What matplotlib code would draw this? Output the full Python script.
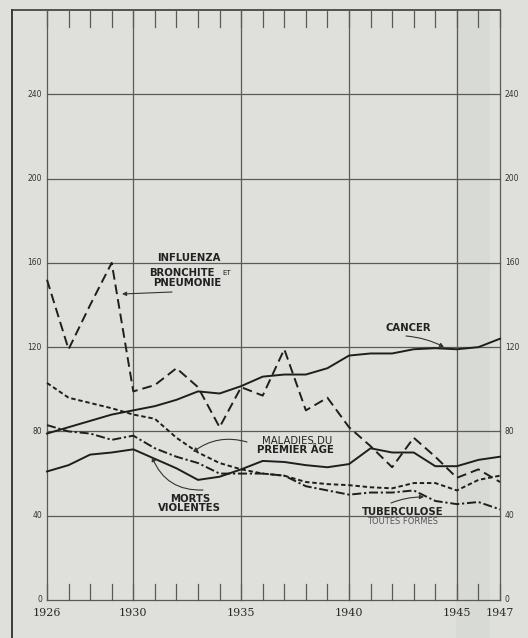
import matplotlib
matplotlib.use("Agg")
import matplotlib.pyplot as plt

plt.rcParams['lines.scale_dashes'] = False

years = list(range(1926, 1948))
influenza = [152, 119, 140, 160, 99, 102, 110, 101, 82, 101, 97, 119, 90, 96, 82, 73, 63, 77, 68, 58, 62, 56]
cancer = [79, 82, 85, 88, 90, 92, 95, 99, 98, 101.5, 106, 107, 107, 110, 116, 117, 117, 119, 119.5, 119, 120, 124]
maladies = [103, 96, 93.5, 91, 88, 86, 77, 70, 65, 62, 60, 59, 56, 55, 54.5, 53.5, 53, 55.5, 55.5, 52, 57, 59]
tuberculose = [83, 80, 79, 76, 78, 72, 68, 65, 60, 60, 60, 59, 54, 52, 50, 51, 51, 52, 47, 45.5, 46.5, 43]
morts = [61, 64, 69, 70, 71.5, 67, 62.5, 57, 58.5, 62, 66, 65.5, 64, 63, 64.5, 72, 70, 70, 63.5, 63.5, 66.5, 68]

y_ticks = [0, 40, 80, 120, 160, 200, 240]
x_labels = [1926, 1930, 1935, 1940, 1945, 1947]

W, H = 528, 638
BG = '#dfe0db'
INK = '#1e1e1e'
GRID = '#5a5a5a'

fig = plt.figure(figsize=(W / 100, H / 100), dpi=100, facecolor=BG)

# axes: 1926 -> px 47, 1947 -> px 500 ; y 0 -> px 600, 280 -> px 10
x0, x1 = 47, 500
yb, yt = 600, 10
ax = fig.add_axes([x0 / W, (H - yb) / H, (x1 - x0) / W, (yb - yt) / H])
ax.set_xlim(1926, 1947)
ax.set_ylim(0, 280)
ax.axis('off')
ax.set_facecolor(BG)

def px2d(px, py):
    return (1926 + (px - x0) * 21 / (x1 - x0), (yb - py) * 280 / (yb - yt))

# faint scan band
bl, _ = px2d(456, 0)
br, _ = px2d(490, 0)
ax.axvspan(bl, br, ymin=-0.1, ymax=1.0, color='#d8dbd5', lw=0, zorder=0, clip_on=False)

# grid
for v in [1926, 1930, 1935, 1940, 1945, 1947]:
    ax.plot([v, v], [0, 280], color=GRID, lw=0.9, zorder=1, clip_on=False)
for h in y_ticks:
    ax.plot([1926, 1947], [h, h], color=GRID, lw=0.9, zorder=1, clip_on=False)

# top line and outer left line
xl, _ = px2d(12, 0)
_, ybot = px2d(0, 638)
ax.plot([xl, 1947], [280, 280], color='#3a3a3a', lw=1.2, zorder=1, clip_on=False)
ax.plot([xl, xl], [280, ybot], color='#3a3a3a', lw=1.4, zorder=1, clip_on=False)

# year ticks top & bottom
for yr in years:
    ax.plot([yr, yr], [0, 7.5], color=GRID, lw=0.9, zorder=1, clip_on=False)
    ax.plot([yr, yr], [280, 272], color=GRID, lw=0.9, zorder=1, clip_on=False)

# series
lw = 1.4
ax.plot(years, influenza, color=INK, lw=lw, dashes=(7, 3.6), zorder=3, clip_on=False)
ax.plot(years, cancer, color=INK, lw=lw, zorder=3, clip_on=False)
ax.plot(years, maladies, color=INK, lw=lw, dashes=(3.2, 2.0), zorder=3, clip_on=False)
ax.plot(years, tuberculose, color=INK, lw=lw, dashes=(6.5, 2.0, 1.6, 2.0), zorder=3, clip_on=False)
ax.plot(years, morts, color=INK, lw=lw, zorder=3, clip_on=False)

# y labels
lx, _ = px2d(42, 0)
rx, _ = px2d(505, 0)
for v in y_ticks:
    ax.text(lx, v, str(v), ha='right', va='center', fontsize=5.5, color='#333333',
            family='DejaVu Sans', clip_on=False)
    ax.text(rx, v, str(v), ha='left', va='center', fontsize=5.5, color='#333333',
            family='DejaVu Sans', clip_on=False)

# x labels
_, ylab = px2d(0, 613)
for yr in x_labels:
    ax.text(yr, ylab, str(yr), ha='center', va='center', fontsize=8, color='#2a2a2a',
            family='DejaVu Serif', clip_on=False)

lab = dict(ha='center', va='center', fontsize=7.3, fontweight='bold', color='#222222',
           family='DejaVu Sans', clip_on=False)

def T(px, py, s, **kw):
    d = dict(lab)
    d.update(kw)
    x, y = px2d(px, py)
    ax.text(x, y, s, **d)

def A(p_from, p_to, rad=0.0):
    ax.annotate('', xy=px2d(*p_to), xytext=px2d(*p_from),
                arrowprops=dict(arrowstyle='-|>', color='#333333', lw=0.8,
                                mutation_scale=6, shrinkA=0, shrinkB=0,
                                connectionstyle=f'arc3,rad={rad}'),
                annotation_clip=False)

T(189, 258, 'INFLUENZA')
T(182, 273, 'BRONCHITE')
T(227, 273, 'ET', fontsize=5, fontweight='normal')
T(187, 283, 'PNEUMONIE')
A((172, 292), (122, 294))

T(408, 328, 'CANCER')
A((406, 336), (444, 347), rad=-0.1)

T(297, 441, 'MALADIES DU', fontweight='normal')
T(295, 450, 'PREMIER ÂGE')
A((247, 442), (193, 452), rad=0.25)

T(190, 499, 'MORTS')
T(189, 508, 'VIOLENTES')
A((203, 490), (152, 457), rad=-0.35)

T(403, 512, 'TUBERCULOSE')
T(403, 522, 'TOUTES FORMES', fontsize=6, fontweight='normal', color='#555555')
A((391, 503), (424, 497), rad=-0.1)

fig.savefig('out.png', dpi=100, facecolor=BG)
